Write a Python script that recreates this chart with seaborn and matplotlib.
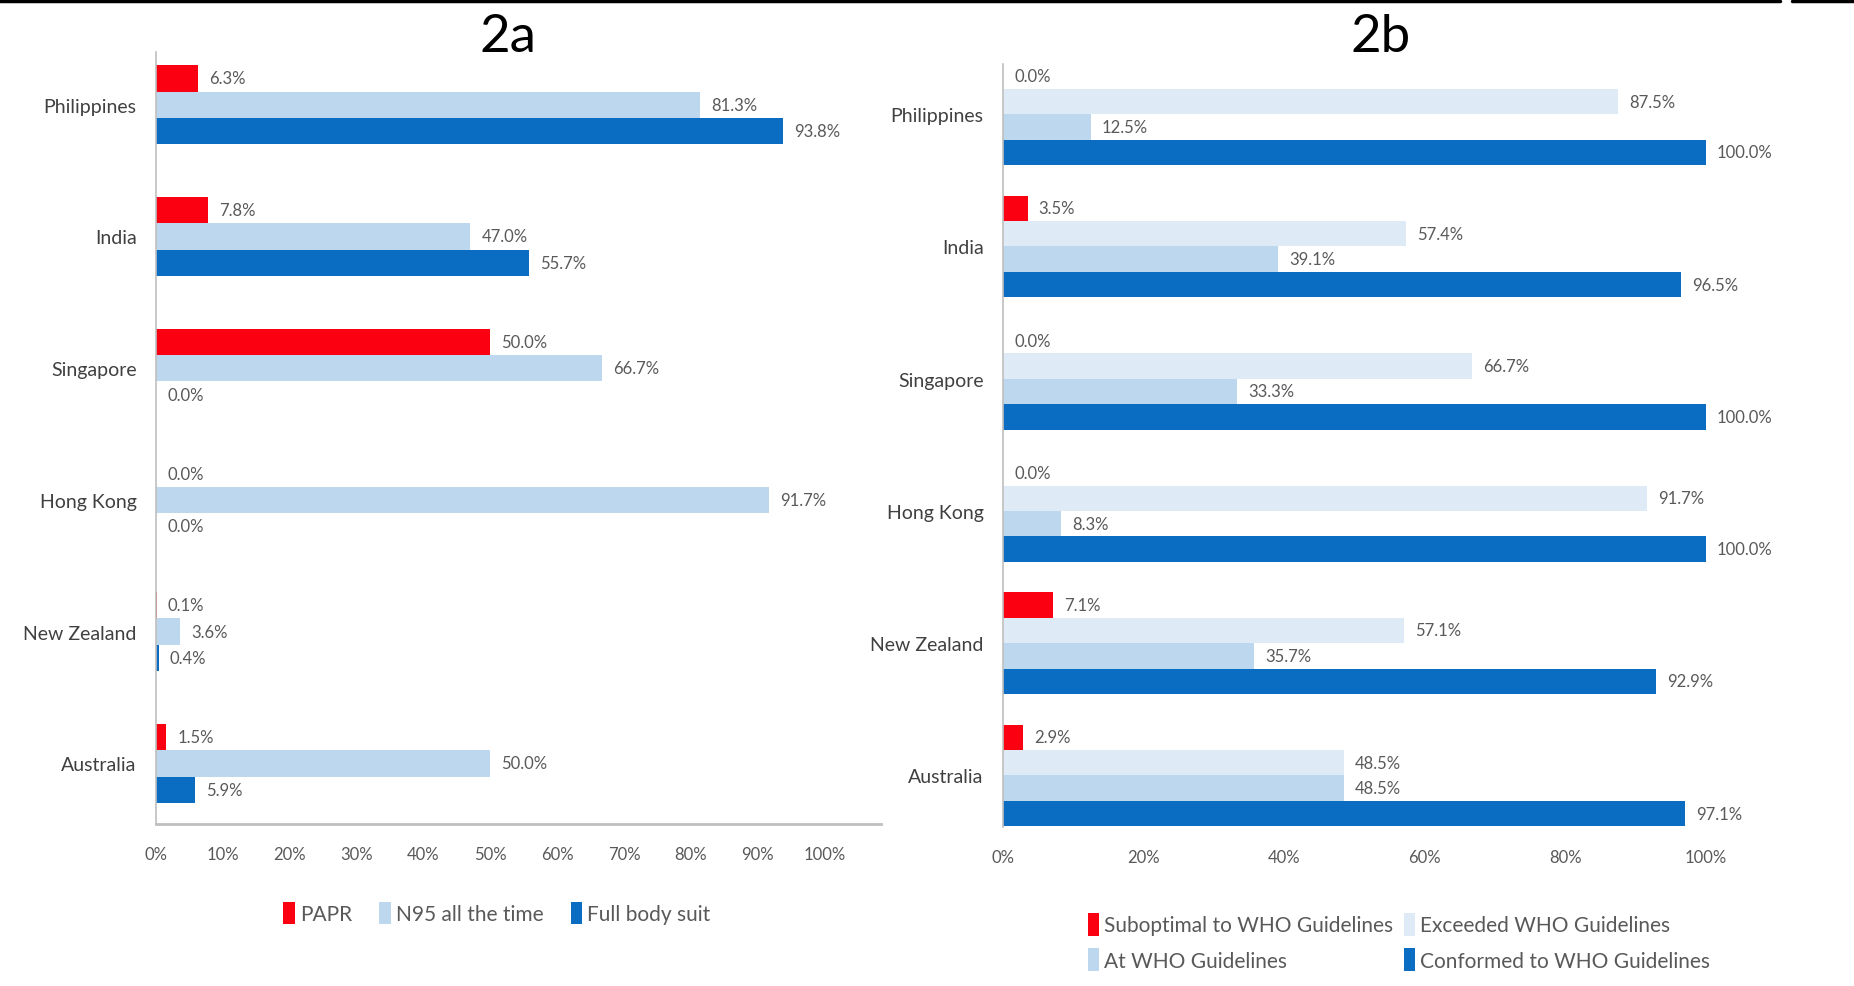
import matplotlib
matplotlib.use("Agg")
import matplotlib.pyplot as plt
from matplotlib.lines import Line2D
import seaborn as sns
import pandas as pd

# ---------------- data ----------------
countries = ["Philippines", "India", "Singapore", "Hong Kong", "New Zealand", "Australia"]

series_a = ["PAPR", "N95 all the time", "Full body suit"]
papr = [6.3, 7.8, 50.0, 0.0, 0.1, 1.5]
n95 = [81.3, 47.0, 66.7, 91.7, 3.6, 50.0]
full_suit = [93.8, 55.7, 0.0, 0.0, 0.4, 5.9]
ticks_a = [0, 10, 20, 30, 40, 50, 60, 70, 80, 90, 100]

series_b = ["Suboptimal to WHO Guidelines", "Exceeded WHO Guidelines",
            "At WHO Guidelines", "Conformed to WHO Guidelines"]
suboptimal = [0.0, 3.5, 0.0, 0.0, 7.1, 2.9]
exceeded = [87.5, 57.4, 66.7, 91.7, 57.1, 48.5]
at_who = [12.5, 39.1, 33.3, 8.3, 35.7, 48.5]
conformed = [100.0, 96.5, 100.0, 100.0, 92.9, 97.1]
ticks_b = [0, 20, 40, 60, 80, 100]

RED = "#FA0010"
LIGHT = "#BDD7EE"
LIGHTER = "#DEEBF7"
DARK = "#0A6DC2"
colors_a = [RED, LIGHT, DARK]
colors_b = [RED, LIGHTER, LIGHT, DARK]

def long_df(series_names, values):
    rows = []
    for name, vals in zip(series_names, values):
        for c, v in zip(countries, vals):
            rows.append({"country": c, "series": name, "value": v})
    return pd.DataFrame(rows)

df_a = long_df(series_a, [papr, n95, full_suit])
df_b = long_df(series_b, [suboptimal, exceeded, at_who, conformed])

# ---------------- style ----------------
sns.set_theme(style="white")
FONT = ["Lato", "DejaVu Sans"]
plt.rcParams["font.family"] = FONT
TXT = "#595959"
SPINE = "#BFBFBF"

W, H = 1854, 987
fig = plt.figure(figsize=(W / 100, H / 100), dpi=100)
fig.patch.set_facecolor("white")

def px_rect(x0, y0, x1, y1):
    return [x0 / W, 1 - y1 / H, (x1 - x0) / W, (y1 - y0) / H]

ax_a = fig.add_axes(px_rect(156, 53, 881, 825))
ax_b = fig.add_axes(px_rect(1003, 65, 1776, 828))

def draw(ax, df, names, pal, width, xmax, ticks, ylim):
    sns.barplot(data=df, y="country", x="value", hue="series", hue_order=names,
                palette=pal, orient="h", width=width, saturation=1,
                linewidth=0, ax=ax, legend=True, errorbar=None)
    for cont in ax.containers:
        ax.bar_label(cont, labels=[f"{v:.1f}%" for v in cont.datavalues],
                     padding=8, fontsize=12, color=TXT, family=FONT)
    ax.set_xlim(0, xmax)
    ax.set_ylim(*ylim)
    ax.set_xticks(ticks)
    ax.set_xticklabels([f"{t}%" for t in ticks], fontsize=12, color=TXT, family=FONT)
    ax.set_yticks(range(len(countries)))
    ax.set_yticklabels(countries, fontsize=14, color="#404040", family=FONT)
    ax.tick_params(axis="x", length=0, pad=16)
    ax.tick_params(axis="y", length=0, pad=14)
    ax.set_xlabel("")
    ax.set_ylabel("")
    for s in ["top", "right"]:
        ax.spines[s].set_visible(False)
    ax.spines["left"].set_color(SPINE)
    ax.spines["left"].set_linewidth(1.2)
    ax.spines["bottom"].set_color(SPINE)
    ax.spines["bottom"].set_linewidth(2)
    handles, labels = ax.get_legend_handles_labels()
    ax.get_legend().remove()
    return handles, labels

h_a, l_a = draw(ax_a, df_a, series_a, colors_a, 0.6, 108.4, ticks_a, (5.46, -0.40))
h_b, l_b = draw(ax_b, df_b, series_b, colors_b, 0.77, 110, ticks_b, (5.39, -0.38))
ax_b.spines["bottom"].set_visible(False)

fig.text(508 / W, 1 - 38 / H, "2a", fontsize=38, color="black", ha="center", va="center",
         family=FONT)
fig.text(1381 / W, 1 - 38 / H, "2b", fontsize=38, color="black", ha="center", va="center",
         family=FONT)

leg_a = ax_a.legend(h_a, l_a, loc="center", ncol=3, frameon=False,
                    bbox_to_anchor=(497 / W, 1 - 914 / H), bbox_transform=fig.transFigure,
                    handlelength=0.55, handleheight=1.3, handletextpad=0.25,
                    columnspacing=1.3, prop={"family": FONT, "size": 15})
for t in leg_a.get_texts():
    t.set_color(TXT)

order = [0, 2, 1, 3]
leg_b = ax_b.legend([h_b[i] for i in order], [l_b[i] for i in order], loc="center",
                    ncol=2, frameon=False,
                    bbox_to_anchor=(1399 / W, 1 - 943 / H), bbox_transform=fig.transFigure,
                    handlelength=0.55, handleheight=1.3, handletextpad=0.25,
                    columnspacing=0.5, labelspacing=0.6, prop={"family": FONT, "size": 15})
for t in leg_b.get_texts():
    t.set_color(TXT)

# thin frame line along the top of the image
fig.add_artist(Line2D([0, 1780 / W], [1 - 2 / H, 1 - 2 / H], color="black", lw=2.5,
                      transform=fig.transFigure))
fig.add_artist(Line2D([1792 / W, 1], [1 - 2 / H, 1 - 2 / H], color="black", lw=2.5,
                      transform=fig.transFigure))

fig.savefig("out.png", dpi=100, facecolor="white")
